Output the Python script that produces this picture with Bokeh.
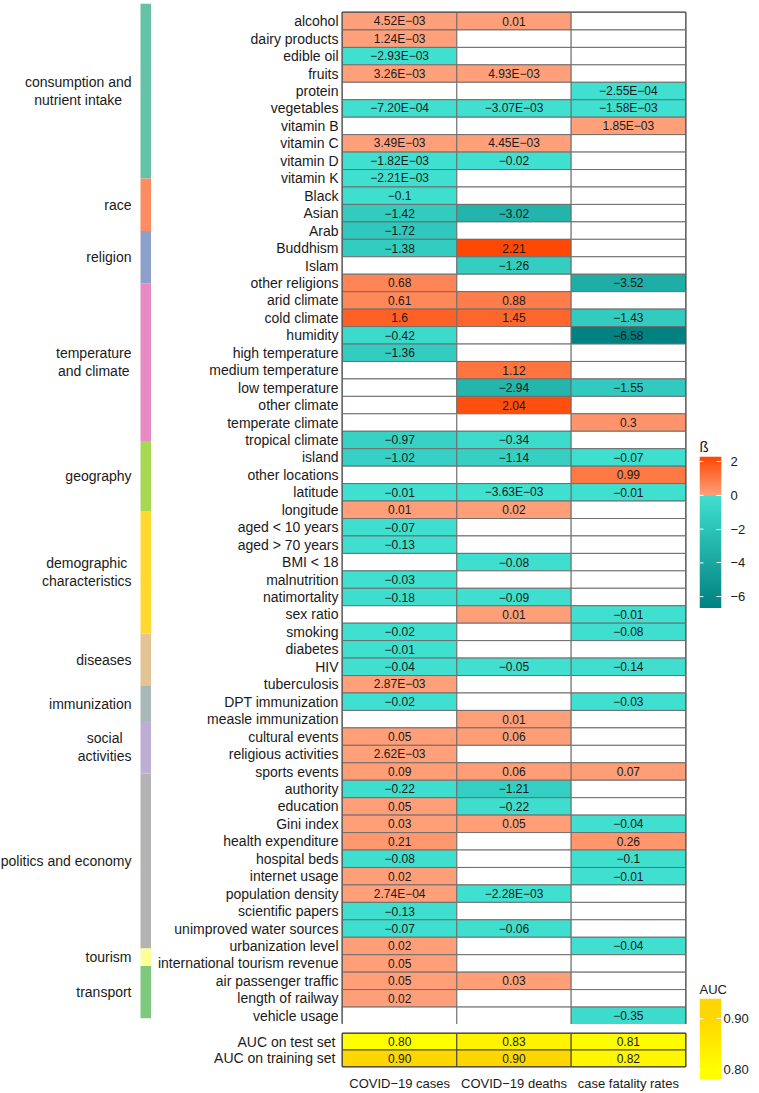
import numpy as np
from bokeh.plotting import figure
from bokeh.models import (ColumnDataSource, FactorRange, Range1d, LinearColorMapper,
                          FixedTicker, PrintfTickFormatter, Spacer)
from bokeh.layouts import row, column
from bokeh.embed import file_html
from bokeh.resources import INLINE
from bokeh.core.properties import value

# ---------------- data ----------------
features = [
    "alcohol", "dairy products", "edible oil", "fruits", "protein", "vegetables",
    "vitamin B", "vitamin C", "vitamin D", "vitamin K",
    "Black", "Asian", "Arab",
    "Buddhism", "Islam", "other religions",
    "arid climate", "cold climate", "humidity", "high temperature", "medium temperature",
    "low temperature", "other climate", "temperate climate", "tropical climate",
    "island", "other locations", "latitude", "longitude",
    "aged < 10 years", "aged > 70 years", "BMI < 18", "malnutrition", "natimortality",
    "sex ratio", "smoking",
    "diabetes", "HIV", "tuberculosis",
    "DPT immunization", "measle immunization",
    "cultural events", "religious activities", "sports events",
    "authority", "education", "Gini index", "health expenditure", "hospital beds",
    "internet usage", "population density", "scientific papers",
    "unimproved water sources", "urbanization level",
    "international tourism revenue",
    "air passenger traffic", "length of railway", "vehicle usage",
]

outcomes = ["COVID\u221219 cases", "COVID\u221219 deaths", "case fatality rates"]

beta_cases = [
    4.52e-3, 1.24e-3, -2.93e-3, 3.26e-3, None, -7.20e-4, None, 3.49e-3, -1.82e-3, -2.21e-3,
    -0.1, -1.42, -1.72,
    -1.38, None, 0.68,
    0.61, 1.6, -0.42, -1.36, None, None, None, None, -0.97,
    -1.02, None, -0.01, 0.01,
    -0.07, -0.13, None, -0.03, -0.18, None, -0.02,
    -0.01, -0.04, 2.87e-3,
    -0.02, None,
    0.05, 2.62e-3, 0.09,
    -0.22, 0.05, 0.03, 0.21, -0.08, 0.02, 2.74e-4, -0.13, -0.07, 0.02,
    0.05,
    0.05, 0.02, None,
]
beta_deaths = [
    0.01, None, None, 4.93e-3, None, -3.07e-3, None, 4.45e-3, -0.02, None,
    None, -3.02, None,
    2.21, -1.26, None,
    0.88, 1.45, None, None, 1.12, -2.94, 2.04, None, -0.34,
    -1.14, None, -3.63e-3, 0.02,
    None, None, -0.08, None, -0.09, 0.01, None,
    None, -0.05, None,
    None, 0.01,
    0.06, None, 0.06,
    -1.21, -0.22, 0.05, None, None, None, -2.28e-3, None, -0.06, None,
    None,
    0.03, None, None,
]
beta_cfr = [
    None, None, None, None, -2.55e-4, -1.58e-3, 1.85e-3, None, None, None,
    None, None, None,
    None, None, -3.52,
    None, -1.43, -6.58, None, None, -1.55, None, 0.3, None,
    -0.07, 0.99, -0.01, None,
    None, None, None, None, None, -0.01, -0.08,
    None, -0.14, None,
    -0.03, None,
    None, None, 0.07,
    None, None, -0.04, 0.26, -0.1, -0.01, None, None, None, -0.04,
    None,
    None, None, -0.35,
]

categories = [
    "consumption and\nnutrient intake", "race", "religion", "temperature\nand climate",
    "geography", "demographic\ncharacteristics", "diseases", "immunization",
    "social\nactivities", "politics and economy", "tourism", "transport",
]
category_sizes = [10, 3, 3, 9, 4, 7, 3, 2, 3, 10, 1, 3]
category_colors = ["#66C2A5", "#FC8D62", "#8DA0CB", "#E78AC3", "#A6D854", "#FFD92F",
                   "#E5C494", "#A8B8B5", "#BEAED4", "#B3B3B3", "#FFFF99", "#7FC97F"]

auc_sets = ["AUC on test set", "AUC on training set"]
auc_test = [0.80, 0.83, 0.81]
auc_train = [0.90, 0.90, 0.82]

# ---------------- helpers ----------------
FONT = "Liberation Sans"
TXT = "#1a1a1a"

# approximate Arial advance widths (per 1000 em) used to centre multi-line labels
_W = dict(zip("abcdefghijklmnopqrstuvwxyz ",
              [556, 556, 500, 556, 556, 278, 556, 556, 222, 222, 500, 222, 833, 556, 556,
               556, 556, 333, 500, 278, 556, 500, 722, 500, 500, 500, 278]))


def text_width(s, size):
    return max(sum(_W.get(ch, 556) for ch in line) for line in s.split("\n")) * size / 1000


def hex2rgb(h):
    h = h.lstrip("#")
    return tuple(int(h[i:i + 2], 16) for i in (0, 2, 4))


def lerp(c1, c2, t):
    a, b = hex2rgb(c1), hex2rgb(c2)
    return "#%02x%02x%02x" % tuple(int(round(a[k] + (b[k] - a[k]) * t)) for k in range(3))


def fmt(v):
    if abs(v) < 0.01:
        s = f"{v:.2E}"
    else:
        s = f"{v:.2f}".rstrip("0").rstrip(".")
    return s.replace("-", "\u2212")


# beta colour scale (legend limits)
BETA_LOW, BETA_HIGH = -6.7, 2.3
NB = 900
beta_centres = BETA_LOW + (np.arange(NB) + 0.5) * (BETA_HIGH - BETA_LOW) / NB
beta_pal = []
for v in beta_centres:
    if v < 0:
        beta_pal.append(lerp("#40E0D0", "#008080", min(v / BETA_LOW, 1)))
    else:
        beta_pal.append(lerp("#FFA07A", "#FF4500", min(v / BETA_HIGH, 1)))
beta_mapper = LinearColorMapper(palette=beta_pal, low=BETA_LOW, high=BETA_HIGH, nan_color="white")

AUC_LOW, AUC_HIGH = 0.78, 0.94
NA = 160
auc_centres = AUC_LOW + (np.arange(NA) + 0.5) * (AUC_HIGH - AUC_LOW) / NA
auc_pal = [lerp("#FFFF00", "#FFD700", min(max((v - 0.80) / 0.10, 0), 1)) for v in auc_centres]
auc_mapper = LinearColorMapper(palette=auc_pal, low=AUC_LOW, high=AUC_HIGH)

CAT_W, MID_W, LEG_W = 151, 537, 71

# ---------------- heat map ----------------
xs, ys, vals, labels = [], [], [], []
for name, series in zip(outcomes, [beta_cases, beta_deaths, beta_cfr]):
    for feat, v in zip(features, series):
        xs.append(name)
        ys.append(feat)
        vals.append(np.nan if v is None else v)
        labels.append("" if v is None else fmt(v))
heat_src = ColumnDataSource(dict(x=xs, y=ys, v=np.array(vals, dtype=float), label=labels))

heat = figure(width=MID_W, height=1024, x_range=FactorRange(*outcomes),
              y_range=FactorRange(*features[::-1]), x_axis_location=None,
              toolbar_location=None, output_backend="svg",
              min_border_left=189, min_border_right=2, min_border_top=12, min_border_bottom=0)
heat.rect(x="x", y="y", width=1, height=1, source=heat_src,
          fill_color={"field": "v", "transform": beta_mapper},
          line_color="#6e6e6e", line_width=1)
heat.text(x="x", y="y", text="label", source=heat_src, text_align="center",
          text_baseline="middle", text_font_size="12px", text_font=value(FONT), text_color=TXT)
heat.grid.grid_line_color = None
heat.outline_line_color = "#333333"
heat.outline_line_width = 2
heat.yaxis.axis_line_color = None
heat.yaxis.major_tick_line_color = None
heat.yaxis.minor_tick_line_color = None
heat.yaxis.major_tick_out = 0
heat.yaxis.major_tick_in = 0
heat.yaxis.major_label_standoff = 4
heat.yaxis.major_label_text_font_size = "14px"
heat.yaxis.major_label_text_font = FONT
heat.yaxis.major_label_text_color = TXT

# ---------------- AUC panel ----------------
ax, ay, av, al = [], [], [], []
for name, series in zip(auc_sets, [auc_test, auc_train]):
    for out, v in zip(outcomes, series):
        ax.append(out)
        ay.append(name)
        av.append(v)
        al.append(f"{v:.2f}")
auc_src = ColumnDataSource(dict(x=ax, y=ay, v=av, label=al))

auc = figure(width=MID_W, height=69, x_range=FactorRange(*outcomes),
             y_range=FactorRange(*auc_sets[::-1]), toolbar_location=None, output_backend="svg",
             min_border_left=191, min_border_right=3, min_border_top=9, min_border_bottom=26)
auc.rect(x="x", y="y", width=1, height=1, source=auc_src,
         fill_color={"field": "v", "transform": auc_mapper}, line_color="#444444", line_width=1)
auc.text(x="x", y="y", text="label", source=auc_src, text_align="center",
         text_baseline="middle", text_font_size="12px", text_font=value(FONT), text_color=TXT)
auc.grid.grid_line_color = None
auc.outline_line_color = "#333333"
auc.outline_line_width = 2
for axis in (auc.xaxis, auc.yaxis):
    axis.axis_line_color = None
    axis.major_tick_line_color = None
    axis.minor_tick_line_color = None
    axis.major_tick_out = 0
    axis.major_tick_in = 0
    axis.major_label_text_font = FONT
    axis.major_label_text_color = TXT
auc.yaxis.major_label_text_font_size = "14px"
auc.yaxis.major_label_standoff = 7
auc.xaxis.major_label_text_font_size = "13px"
auc.xaxis.major_label_standoff = 9

# ---------------- category bar ----------------
starts = np.cumsum([0] + category_sizes[:-1])
ends = np.cumsum(category_sizes)
LABEL_RIGHT = 131
cat_x = [LABEL_RIGHT - text_width(c, 14) / 2 for c in categories]
cat_src = ColumnDataSource(dict(top=starts, bottom=ends, mid=(starts + ends) / 2,
                                name=categories, color=category_colors, lx=cat_x))
cat = figure(width=CAT_W, height=1093, x_range=Range1d(0, CAT_W),
             y_range=Range1d(int(sum(category_sizes)), 0),
             x_axis_location=None, y_axis_location=None, toolbar_location=None,
             output_backend="svg", min_border_left=0, min_border_right=0,
             min_border_top=3, min_border_bottom=75, outline_line_color=None)
cat.quad(left=140, right=151, top="top", bottom="bottom", fill_color="color",
         line_color=None, source=cat_src)
cat.text(x="lx", y="mid", text="name", source=cat_src, text_align="center",
         text_baseline="middle", text_font_size="14px", text_font=value(FONT),
         text_color=TXT, text_line_height=1.1)
cat.grid.grid_line_color = None


# ---------------- legends ----------------
def legend_fig(mapper, centres, low, high, ticks, title, title_size, height,
               left, right, top, bottom, standoff, fmt_str=None):
    f = figure(width=LEG_W, height=height, x_range=Range1d(0, 1), y_range=Range1d(low, high),
               x_axis_location=None, y_axis_location="right", toolbar_location=None,
               output_backend="svg", min_border_left=left, min_border_right=right,
               min_border_top=top, min_border_bottom=bottom, outline_line_color=None,
               title=title)
    f.image(image=[np.asarray(centres).reshape(-1, 1)], x=0, y=low, dw=1, dh=high - low,
            color_mapper=mapper)
    # white tick marks on the left edge of the bar
    f.segment(x0=0, x1=0.18, y0=ticks, y1=ticks, line_color="white", line_width=1)
    f.grid.grid_line_color = None
    f.title.text_font_size = title_size
    f.title.text_font_style = "normal"
    f.title.text_font = FONT
    f.title.text_color = TXT
    f.title.align = "left"
    f.title.standoff = 4
    ax_r = f.yaxis[0]
    ax_r.ticker = FixedTicker(ticks=ticks)
    if fmt_str:
        ax_r.formatter = PrintfTickFormatter(format=fmt_str)
    ax_r.axis_line_color = None
    ax_r.minor_tick_line_color = None
    ax_r.major_tick_line_color = "white"
    ax_r.major_tick_in = 5
    ax_r.major_tick_out = 0
    ax_r.major_label_standoff = standoff
    ax_r.major_label_text_font_size = "13px"
    ax_r.major_label_text_font = FONT
    ax_r.major_label_text_color = TXT
    return f


leg_beta = legend_fig(beta_mapper, beta_centres, BETA_LOW, BETA_HIGH, [-6, -4, -2, 0, 2],
                      "\u00df", "15px", 175, 11, 29, 22, 0, 9)
leg_auc = legend_fig(auc_mapper, auc_centres, AUC_LOW, AUC_HIGH, [0.8, 0.9],
                     "AUC", "13px", 116, 9, 38, 20, 14, 2, "%.2f")

legcol = column(Spacer(width=LEG_W, height=433), leg_beta,
                Spacer(width=LEG_W, height=369), leg_auc)

layout = row(cat, column(heat, auc), legcol)

open("out.html", "w").write(file_html(layout, INLINE))
